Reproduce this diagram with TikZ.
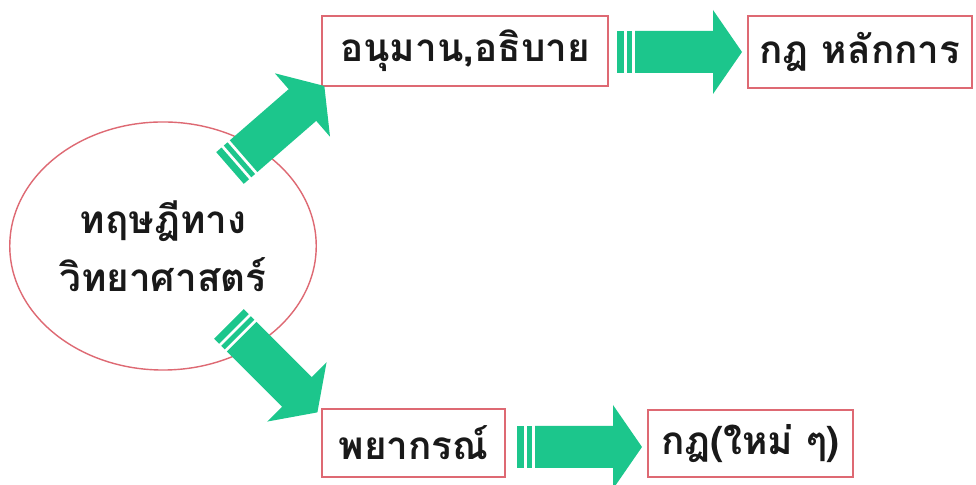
\documentclass[tikz,border=0pt]{standalone}
\usepackage{fontspec}
\newfontfamily\thaifont[Script=Thai]{Loma}
\usetikzlibrary{shapes.geometric}
\definecolor{boxred}{RGB}{222,105,115}
\definecolor{arrowgreen}{RGB}{28,198,140}
\tikzset{
  thaitext/.style={font=\thaifont\bfseries\fontsize{27.5}{41}\selectfont, text=black!90, align=center},
  labelbox/.style={draw=boxred, line width=1pt, fill=white, thaitext, inner sep=0pt},
  fatarrow/.pic={
    \fill[arrowgreen] (0,-21) rectangle (7,21);
    \fill[arrowgreen] (10,-21) rectangle (15,21);
    \fill[arrowgreen] (18,-21) -- (96,-21) -- (96,-42) -- (125,0) -- (96,42) -- (96,21) -- (18,21) -- cycle;
  }
}
\begin{document}
\begin{tikzpicture}[x=0.025cm,y=0.025cm]
\useasboundingbox (0,0) rectangle (976,485);
\fill[white] (0,0) rectangle (976,485);
% nodes
\node[ellipse, draw=boxred, line width=1pt, minimum width=7.5cm, minimum height=6.2cm, thaitext] (circ) at (163,239) {ทฤษฎีทาง\\วิทยาศาสตร์};
\node[labelbox, minimum width=7.15cm, minimum height=1.75cm] (b1) at (465,434) {อนุมาน,อธิบาย};
\node[labelbox, minimum width=5.6cm, minimum height=1.8cm] (b2) at (860,433) {กฎ หลักการ};
\node[labelbox, minimum width=4.575cm, minimum height=1.7cm] (b3) at (413.5,42) {พยากรณ์};
\node[labelbox, minimum width=5.125cm, minimum height=1.675cm] (b4) at (750.5,41.5) {กฎ(ใหม่ ๆ)};
% arrows
\coordinate (t1) at (230,317);
\coordinate (t2) at (229,161);
\coordinate (t3) at (617,433);
\coordinate (t4) at (517,38);
\pic[rotate=41] at (t1) {fatarrow};
\pic[rotate=-45] at (t2) {fatarrow};
\pic at (t3) {fatarrow};
\pic at (t4) {fatarrow};
\end{tikzpicture}
\end{document}
